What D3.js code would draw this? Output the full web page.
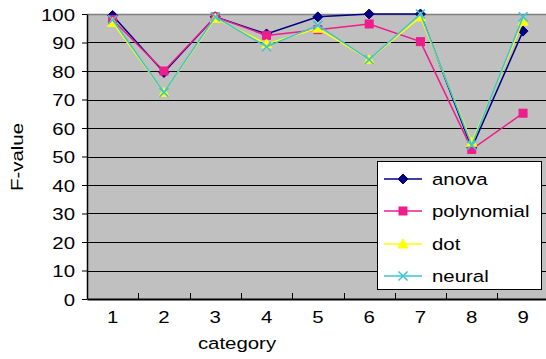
<!DOCTYPE html>
<html>
<head>
<meta charset="utf-8">
<script src="https://cdn.jsdelivr.net/npm/d3@7"></script>
<style>
  html, body { margin: 0; padding: 0; background: #fff; }
  svg { display: block; }
  text { font-family: "Liberation Sans", Arial, sans-serif; fill: #000; }
</style>
</head>
<body>
<svg id="chart" width="546" height="359"></svg>
<script>
const categories = ["1","2","3","4","5","6","7","8","9"];
const yTicks = [0,10,20,30,40,50,60,70,80,90,100];
const anova      = [99.5, 79.5, 99, 93, 99, 100, 100, 53, 94];
const polynomial = [98, 80, 99, 92.5, 94.5, 96.5, 90.3, 52.5, 65.2];
const dot        = [97, 72.5, 98.5, 89.5, 95, 84, 99, 55, 97.5];
const neural     = [98, 72.5, 99, 88.5, 96, 84, 100, 54, 99];
const seriesNames = ["anova","polynomial","dot","neural"];

const series = [
  {name: seriesNames[0], values: anova,      color: "#000080", marker: "diamond"},
  {name: seriesNames[1], values: polynomial, color: "#ee1c8c", marker: "square"},
  {name: seriesNames[2], values: dot,        color: "#ffff00", marker: "triangle"},
  {name: seriesNames[3], values: neural,     color: "#3fc4d4", marker: "x"}
];

const svg = d3.select("#chart");
const plot = {left: 87, right: 548.7, top: 14, bottom: 299};
const SX = 1.2; // horizontal text stretch
const FS = 17;

const x = d3.scaleBand().domain(categories).range([plot.left, plot.right]).padding(0);
const y = d3.scaleLinear().domain([0, 100]).range([plot.bottom, plot.top]);
const cx = c => x(c) + x.bandwidth() / 2;

// plot area
svg.append("rect")
  .attr("x", plot.left).attr("y", plot.top)
  .attr("width", plot.right - plot.left).attr("height", plot.bottom - plot.top)
  .attr("fill", "#c0c0c0");

// gridlines
svg.append("g").selectAll("line").data(yTicks.filter(v => v > 0))
  .join("line")
  .attr("x1", plot.left).attr("x2", plot.right)
  .attr("y1", d => Math.round(y(d)) + 0.5).attr("y2", d => Math.round(y(d)) + 0.5)
  .attr("stroke", d => d === 100 ? "#808080" : "#000")
  .attr("stroke-width", d => d === 100 ? 1.5 : 1);

// y axis
const yAxis = svg.append("g")
  .attr("transform", `translate(${plot.left},0)`)
  .call(d3.axisLeft(y).tickValues(yTicks).tickSize(5).tickSizeOuter(0));
yAxis.select(".domain").attr("stroke", "#000").attr("stroke-width", 1.5);
yAxis.selectAll(".tick line").attr("stroke", "#000");
yAxis.selectAll(".tick text")
  .attr("x", 0).attr("dy", "0.36em")
  .attr("font-size", FS)
  .attr("transform", `translate(-12,0) scale(${SX},1)`)
  .style("font-family", "'Liberation Sans', Arial, sans-serif");

// x axis
const xAxis = svg.append("g")
  .attr("transform", `translate(0,${plot.bottom})`)
  .call(d3.axisBottom(x).tickSize(0).tickSizeOuter(0));
xAxis.select(".domain").attr("stroke", "#000").attr("stroke-width", 2);
xAxis.selectAll(".tick text")
  .attr("y", 0).attr("dy", 0)
  .attr("font-size", FS)
  .attr("transform", `translate(0,24) scale(${SX},1)`)
  .style("font-family", "'Liberation Sans', Arial, sans-serif");
// boundary tick marks pointing up
svg.append("g").selectAll("line").data(categories.slice(1))
  .join("line")
  .attr("x1", d => Math.round(x(d)) + 0.5).attr("x2", d => Math.round(x(d)) + 0.5)
  .attr("y1", plot.bottom - 6).attr("y2", plot.bottom)
  .attr("stroke", "#000");

// axis titles
svg.append("text")
  .attr("transform", `translate(237,349) scale(${SX},1)`)
  .attr("text-anchor", "middle").attr("font-size", FS)
  .text("category");
svg.append("text")
  .attr("transform", `translate(23,157) rotate(-90) scale(${SX},1)`)
  .attr("text-anchor", "middle").attr("font-size", FS)
  .text("F-value");

// markers
function drawMarker(g, type, color, px, py) {
  if (type === "diamond") {
    g.append("path").attr("d", `M${px},${py-5}L${px+5},${py}L${px},${py+5}L${px-5},${py}Z`)
      .attr("fill", color).attr("stroke", color);
  } else if (type === "square") {
    g.append("rect").attr("x", px-4).attr("y", py-4).attr("width", 8).attr("height", 8)
      .attr("fill", color).attr("stroke", color);
  } else if (type === "triangle") {
    g.append("path").attr("d", `M${px},${py-5}L${px+5},${py+4}L${px-5},${py+4}Z`)
      .attr("fill", color).attr("stroke", color);
  } else {
    g.append("path").attr("d", `M${px-4.5},${py-4.5}L${px+4.5},${py+4.5}M${px-4.5},${py+4.5}L${px+4.5},${py-4.5}`)
      .attr("fill", "none").attr("stroke", color).attr("stroke-width", 1.5);
  }
}

const line = d3.line().x((d, i) => cx(categories[i])).y(d => y(d));
series.forEach(s => {
  const g = svg.append("g");
  g.append("path").datum(s.values).attr("d", line)
    .attr("fill", "none").attr("stroke", s.color).attr("stroke-width", 1.5);
  s.values.forEach((v, i) => drawMarker(g, s.marker, s.color, cx(categories[i]), y(v)));
});

// legend
const lg = svg.append("g");
lg.append("rect").attr("x", 377.5).attr("y", 161.5).attr("width", 164).attr("height", 128)
  .attr("fill", "#fff").attr("stroke", "#000");
const ly = [179, 211, 244, 276];
series.forEach((s, i) => {
  lg.append("line").attr("x1", 384).attr("x2", 422).attr("y1", ly[i]).attr("y2", ly[i])
    .attr("stroke", s.color).attr("stroke-width", 1.5);
  drawMarker(lg, s.marker, s.color, 403, ly[i]);
  lg.append("text").attr("transform", `translate(432,${ly[i] + 6}) scale(${SX},1)`)
    .attr("font-size", FS).text(s.name);
});
</script>
</body>
</html>
